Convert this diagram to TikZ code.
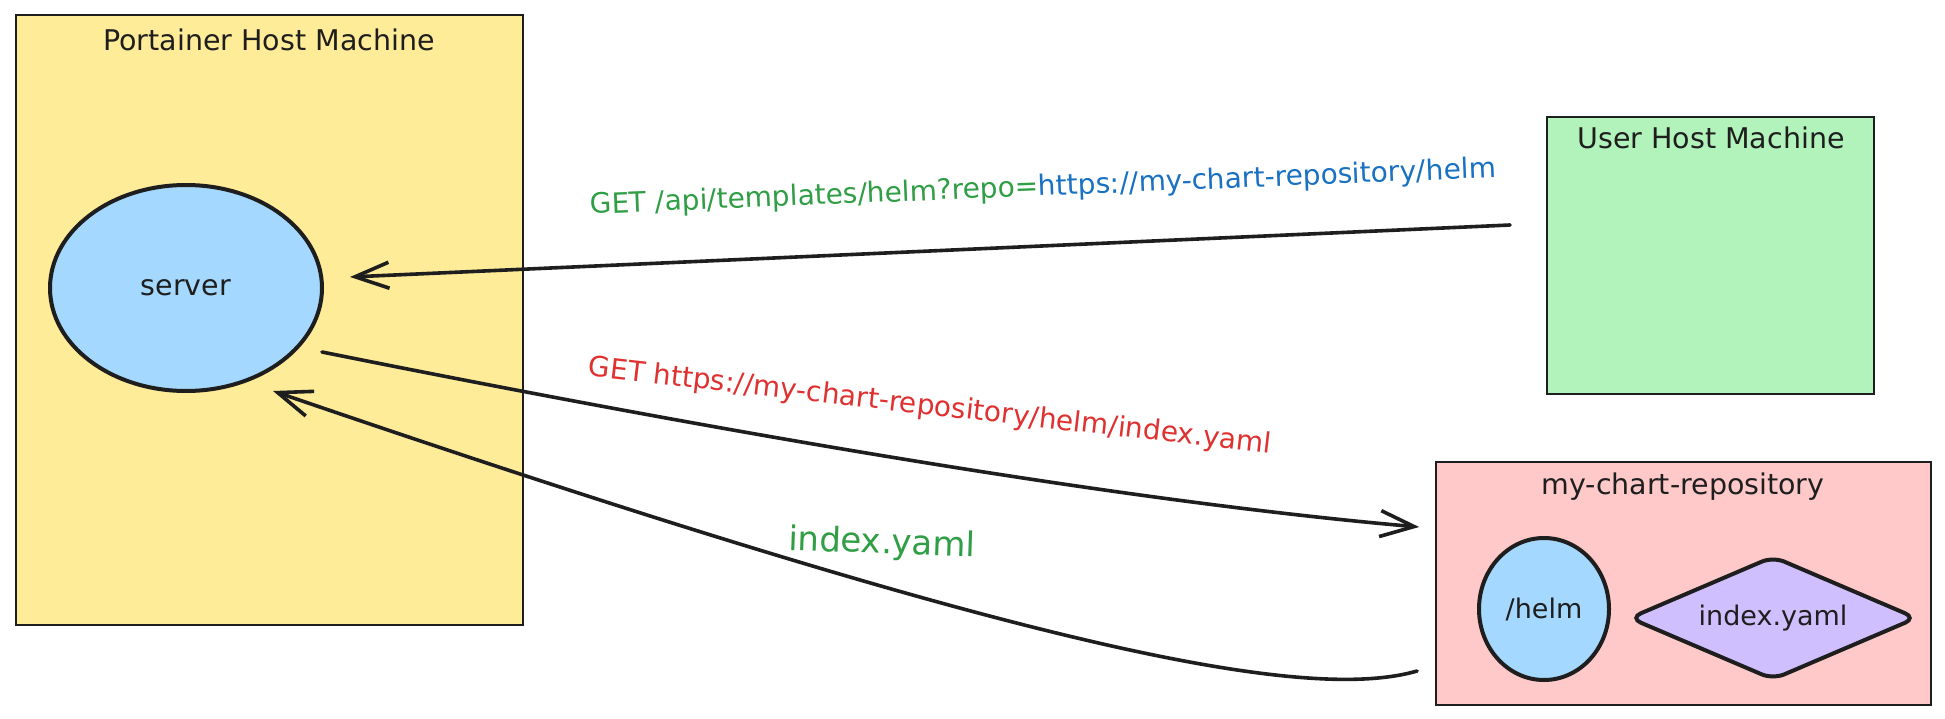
\documentclass[tikz,border=0pt]{standalone}
\usepackage{fontspec}
\setmainfont{DejaVu Sans}
\usetikzlibrary{shapes.geometric,arrows.meta}
\definecolor{hostyellow}{HTML}{FFEC99}
\definecolor{hostgreen}{HTML}{B2F2BB}
\definecolor{repopink}{HTML}{FFC9C9}
\definecolor{nodeblue}{HTML}{A5D8FF}
\definecolor{nodepurple}{HTML}{D0BFFF}
\definecolor{tgreen}{HTML}{2F9E44}
\definecolor{tblue}{HTML}{1971C2}
\definecolor{tred}{HTML}{E03131}
\definecolor{ink}{HTML}{1E1E1E}
\begin{document}
\begin{tikzpicture}[x=1pt,y=-1pt,
  hostbox/.style={draw=ink, line width=1.8pt, rectangle, inner sep=0pt},
  titletext/.style={font=\fontsize{28.5}{33}\selectfont, text=ink, inner sep=0pt},
  blob/.style={draw=ink, line width=4pt, ellipse, inner sep=0pt, fill=nodeblue},
  conn/.style={draw=ink, line width=3.6pt, line cap=round, -{Straight Barb[length=34pt,width=26pt,line width=3.6pt]}},
  lbl/.style={inner sep=0pt, font=\fontsize{28}{33}\selectfont}
]
\useasboundingbox (0,0) rectangle (1945,719);
\fill[white] (0,0) rectangle (1945,719);

% containers
\node[hostbox, fill=hostyellow, minimum width=507pt, minimum height=610pt] (portainer) at (269.5,320) {};
\node[titletext] (ptitle) at (269,40) {Portainer Host Machine};
\node[hostbox, fill=hostgreen, minimum width=327pt, minimum height=277pt] (user) at (1710.5,255.5) {};
\node[titletext] (utitle) at (1711,138) {User Host Machine};
\node[hostbox, fill=repopink, minimum width=495pt, minimum height=243pt] (repo) at (1683.5,583.5) {};
\node[titletext] (rtitle) at (1683,487) {my-chart-repository};

% inner nodes
\node[blob, minimum width=272pt, minimum height=206pt, font=\fontsize{28.5}{33}\selectfont, text=ink] (server) at (186,288) {server};
\node[blob, minimum width=130pt, minimum height=142pt, font=\fontsize{27}{32}\selectfont, text=ink] (helm) at (1544,609) {/helm};
\node[draw=ink, line width=4pt, diamond, aspect=2.32, minimum width=288pt, minimum height=124pt, inner sep=0pt, rounded corners=12pt, fill=nodepurple, font=\fontsize{27}{32}\selectfont, text=ink] (idx) at (1773,618) {index.yaml};

% connector end points
\coordinate (a1s) at ([shift={(-36,-30.5)}]user.west);
\coordinate (a1e) at ([shift={(26,-11)}]server.east);
\coordinate (a2s) at ([shift={(-2,64)}]server.east);
\coordinate (a2e) at ([shift={(-16,-56.5)}]repo.west);
\coordinate (a3s) at ([shift={(-18,87.5)}]repo.west);
\coordinate (a3e) at ([shift={(87,103)}]server.center);

% connectors
\draw[conn] (a1s) -- (a1e);
\draw[conn] (a2s) .. controls (720,432) and (1120,501) .. (a2e);
\draw[conn] (a3s) .. controls (1300,705) and (1000,640) .. (a3e);

% labels
\node[lbl, rotate=2.3] (l1) at (1043,188) {\color{tgreen}GET /api/templates/helm?repo=\color{tblue}https://my-chart-repository/helm};
\node[lbl, rotate=-6.5, text=tred] (l2) at (930,407) {GET https://my-chart-repository/helm/index.yaml};
\node[lbl, rotate=-2, text=tgreen, font=\fontsize{34}{40}\selectfont] (l3) at (882,544) {index.yaml};
\end{tikzpicture}
\end{document}
